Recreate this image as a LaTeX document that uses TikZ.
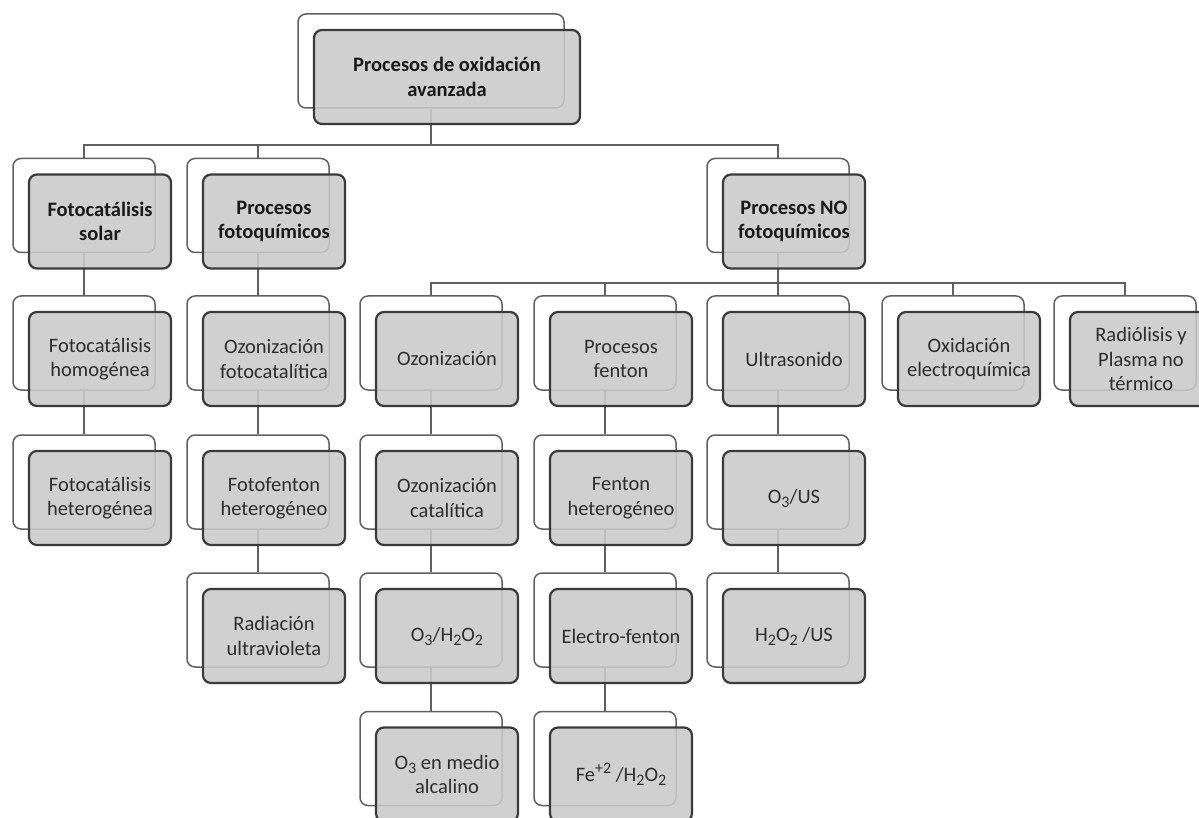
\documentclass[tikz,border=0pt]{standalone}
\usepackage{fontspec}
\setmainfont{Carlito}
\usetikzlibrary{positioning,backgrounds}
\definecolor{boxGray}{RGB}{202,202,202}
\definecolor{edgeDark}{RGB}{58,58,58}
\definecolor{edgeMid}{RGB}{96,96,96}
\definecolor{textDark}{RGB}{45,45,45}
\newcommand{\sbs}[1]{\raisebox{-0.4ex}{\fontsize{16}{16}\selectfont #1}}
\newcommand{\sps}[1]{\raisebox{0.85ex}{\fontsize{16}{16}\selectfont #1}}

\begin{document}
\begin{tikzpicture}[x=1pt,y=-1pt,
    backbox/.style={draw=edgeMid, line width=1.5pt, fill=white, rounded corners=8pt,
      minimum width=142pt, minimum height=94pt},
    frontbox/.style={draw=edgeDark, line width=2.2pt, fill=boxGray, fill opacity=0.88,
      text opacity=1, rounded corners=8pt, minimum width=142pt, minimum height=94pt,
      align=center, text=textDark, inner sep=2pt, font=\fontsize{20.5}{24.5}\selectfont},
    titlebox/.style={frontbox, text=black!90, font=\fontsize{20.5}{24.5}\selectfont\bfseries},
    link/.style={draw=edgeMid, line width=1.6pt}]
  \useasboundingbox (0,0) rectangle (1199,818);

  % top of the tree
  \node[backbox, minimum width=266pt] (avz-b) at (431,61) {};
  \node[titlebox, minimum width=266pt] (avz) at ([shift={(16,16)}]avz-b) {Procesos de oxidación\\avanzada};

  % first level
  \foreach \nm/\cx/\cy/\txt in {fsol/84/205.5/{Fotocatálisis\\solar},
      pfq/258/205.5/{Procesos\\fotoquímicos}, pnf/778/205.5/{Procesos NO\\fotoquímicos}} {
    \node[backbox] (\nm-b) at (\cx,\cy) {};
    \node[titlebox] (\nm) at ([shift={(16,16)}]\nm-b) {\txt};
  }

  % the rest
  \foreach \nm/\cx/\cy/\txt in {fhom/84/343/{Fotocatálisis\\homogénea},
      fhet/84/482/{Fotocatálisis\\heterogénea},
      ozfc/258/343/{Ozonización\\fotocatalítica}, ffh/258/482/{Fotofenton\\heterogéneo},
      ruv/258/620/{Radiación\\ultravioleta},
      ozo/431/343/{Ozonización}, ozc/431/482/{Ozonización\\catalítica},
      oxp/431/620/{O\sbs{3}/H\sbs{2}O\sbs{2}},
      oal/431/758.5/{O\sbs{3} en medio\\alcalino},
      pfe/605/343/{Procesos\\fenton}, feh/605/482/{Fenton\\heterogéneo},
      elf/605/620/{Electro-fenton},
      fe/605/758.5/{Fe\sps{+2} /H\sbs{2}O\sbs{2}},
      ult/778/343/{Ultrasonido}, ous/778/482/{O\sbs{3}/US},
      hus/778/620/{H\sbs{2}O\sbs{2} /US},
      oxe/953/343/{Oxidación\\electroquímica},
      rad/1125/343/{Radiólisis y\\Plasma no\\térmico}} {
    \node[backbox] (\nm-b) at (\cx,\cy) {};
    \node[frontbox] (\nm) at ([shift={(16,16)}]\nm-b) {\txt};
  }

  \coordinate (barA) at (0,145);
  \coordinate (barB) at (0,283);

  % connectors
  \begin{scope}[on background layer]
    \draw[link] (avz-b.south) -- (avz-b.south |- barA);
    \draw[link] (fsol-b.north) |- (barA -| pnf-b.north) -- (pnf-b.north);
    \draw[link] (pfq-b.north) -- (pfq-b.north |- barA);
    \draw[link] (pnf-b.south) -- (pnf-b.south |- barB);
    \draw[link] (ozo-b.north) |- (barB -| rad-b.north) -- (rad-b.north);
    \foreach \kid in {pfe,ult,oxe}
      \draw[link] (\kid-b.north) -- (\kid-b.north |- barB);
    \foreach \up/\dn in {fsol/fhom, fhom/fhet, pfq/ozfc, ozfc/ffh, ffh/ruv,
        ozo/ozc, ozc/oxp, oxp/oal, pfe/feh, feh/elf, elf/fe, ult/ous, ous/hus}
      \draw[link] (\up-b.south) -- (\dn-b.north);
  \end{scope}
\end{tikzpicture}
\end{document}
